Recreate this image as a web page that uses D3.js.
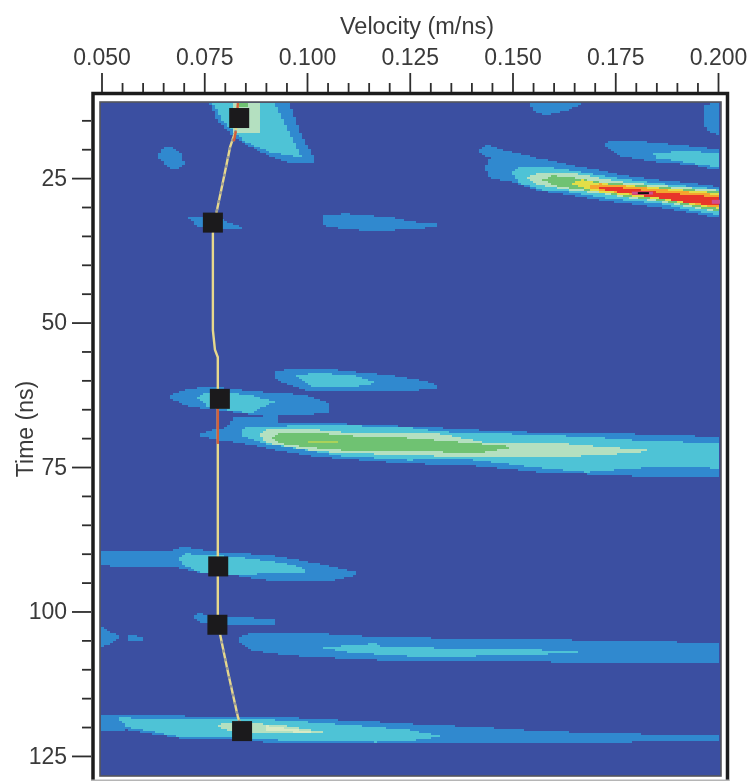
<!DOCTYPE html>
<html>
<head>
<meta charset="utf-8">
<title>Velocity spectrum</title>
<script src="https://d3js.org/d3.v7.min.js"></script>
<style>
  html, body { margin: 0; padding: 0; background: #fff; overflow: hidden; }
  svg { display: block; filter: blur(0.5px); }
  text { font-family: "Liberation Sans", Arial, sans-serif; fill: #3a3a3a; }
</style>
</head>
<body>
<svg id="chart" width="753" height="781"></svg>
<script>
// tick values
var velTicks = [0.050, 0.075, 0.100, 0.125, 0.150, 0.175, 0.200];
var velMinorTicks = [0.055, 0.060, 0.065, 0.070, 0.080, 0.085, 0.090, 0.095, 0.105, 0.110, 0.115, 0.120,
  0.130, 0.135, 0.140, 0.145, 0.155, 0.160, 0.165, 0.170, 0.180, 0.185, 0.190, 0.195];
var timeTicks = [25, 50, 75, 100, 125];
var timeMinorTicks = [15, 20, 30, 35, 40, 45, 55, 60, 65, 70, 80, 85, 90, 95, 105, 110, 115, 120];

// picked points (velocity m/ns, time ns)
var pickVel = [0.0835, 0.0771, 0.0788, 0.0784, 0.0782, 0.0842];
var pickTime = [14.6, 32.7, 63.2, 92.2, 102.3, 120.7];

// velocity function through the picks
var lineVel = [0.0832, 0.0827, 0.0813, 0.0793, 0.0781, 0.0771, 0.0771, 0.0776, 0.0783, 0.0783, 0.0783, 0.0793, 0.0808, 0.0832, 0.0842];
var lineTime = [12, 16.7, 19.6, 26.5, 30.5, 34.5, 51.3, 54.7, 56, 85.9, 102, 105.5, 110.6, 118.3, 120.3];

// where the line turns orange over stronger semblance
var redVel = [[0.0832, 0.0831], [0.0827, 0.0822], [0.0783, 0.0783]];
var redTime = [[12, 12.9], [16.9, 18.6], [64.3, 71]];

// contour patches, [velocity in mm/ns, time in ns]
var patchA1 = [[76.4,12],[78.1,14.9],[81.3,17.2],[83.7,18.7],[90.2,21],[95.8,22.4],[101.9,22.4],[101.4,21],[98.3,17.2],[95.8,12]];
var patchA2 = [[77.1,12],[79.3,14.9],[82.5,17.2],[84.9,18.7],[91,20.5],[98.8,21.5],[92.2,12]];
var patchA3 = [[81.7,12],[88.5,12],[88.5,17.2],[81.7,17.2]];
var patchA4 = [[83.2,12],[85.4,12],[85.4,12.6],[83.2,12.6]];
var patchB1 = [[63.5,21],[65,19.8],[67.1,19.6],[69.6,21],[70.1,22.7],[67.9,23.6],[65.4,22.7]];
var patchC1 = [[70.8,31.9],[74.7,31.6],[79.5,32.2],[84.9,33.8],[78.8,34],[73.9,33.5]];
var patchD1 = [[103.6,31.6],[109.2,31.1],[112.9,31.4],[116.8,31.6],[121.4,31.9],[126.3,32.6],[131.8,32.9],[131.8,33.5],[125,33.8],[116.8,34.2],[109.2,33.8],[104.4,33.3],[103.6,32.6]];
var patchE1 = [[154,12],[167.1,12],[163.9,13.2],[158.1,14.1],[155.9,13.6],[154,12.3]];
var patchF1 = [[196.3,12.3],[200.5,12],[200.5,17.5],[197.8,17],[196.3,15.3]];
var patchG1 = [[172.4,19.3],[173.7,18.7],[181.7,18.7],[192.4,19.4],[200.5,20],[200.5,23.6],[193.1,22.7],[185.1,22.2],[176.8,21.3],[172.9,19.8]];
var patchG2 = [[183.9,20.7],[192.4,20.3],[200.5,20.7],[200.5,23.2],[193.1,22.4],[185.1,21.5]];

var patchH1 = [[141.6,20.1],[143.7,19.1],[147.6,20.1],[155.9,21.5],[163.9,22.7],[171.2,23.6],[176.8,24.5],[185.1,25.3],[193.1,25.8],[200.5,26.5],[200.5,31.9],[193.1,31],[185.1,30],[176.8,29.3],[171.2,28.8],[163.9,27.9],[155.9,27.1],[150,25.7],[144.5,25],[143.3,23.2],[144.5,21.5],[141.6,20.6]];
var patchH2 = [[149.8,24.1],[151.8,23.1],[156.6,22.9],[163.9,23.6],[171.2,24.5],[176.8,25.1],[185.1,25.9],[200.5,26.9],[200.5,31.4],[193.1,30.5],[185.1,29.3],[176.8,28.8],[171.2,28.3],[163.9,27.4],[157.4,27.1],[151.8,25.9]];
var patchH3 = [[153.7,25],[156.1,24],[163.9,24],[171.2,25],[176.8,25.7],[185.1,26.2],[200.5,27.1],[200.5,30.9],[193.1,30],[185.1,29],[176.8,28.3],[171.2,27.6],[163.9,27.1],[157.4,26.3],[155,25.8]];
var patchH4 = [[157.4,25.3],[159.8,24.6],[163.9,24.8],[171.2,25.7],[176.8,26],[185.1,26.5],[200.5,27.4],[200.5,30.7],[185.1,28.8],[176.8,28.1],[171.2,27.4],[163.9,26.7],[159.8,26.2]];
var patchH5 = [[163.9,25.9],[167,25.3],[171.2,25.9],[176.8,26.2],[185.1,26.7],[200.5,27.6],[200.5,30.3],[185.1,28.6],[176.8,27.9],[171.2,27.4],[167,26.7]];
var patchH6 = [[167.5,26.5],[171.2,26],[176.8,26.3],[185.1,26.9],[200.5,27.9],[200.5,30.2],[185.1,28.4],[176.8,27.6],[171.2,27.1]];
var patchH7 = [[171.2,26.7],[176.8,26.7],[185.1,27.4],[193.1,27.9],[200.5,28.3],[200.5,29.8],[193.1,29.3],[185.1,28.4],[178.5,27.7],[172.9,27.1],[171.2,26.9]];

var patchJ1 = [[65.9,62.9],[69.8,61.7],[75.7,61],[85.4,61.8],[99,62.5],[105.1,63.9],[105.1,65.5],[100,66],[87.8,66],[78.1,65.1],[71.5,64.6]];
var patchJ2 = [[73.2,62.9],[75.2,62],[86.1,62.5],[92.2,63.7],[86.1,65.7],[80.2,65.1],[76,64.6]];
var patchK1 = [[91.7,58.7],[95.8,58],[103.9,57.9],[112.1,58.6],[120.2,59.1],[129.9,60.3],[131.6,60.9],[131.6,61.3],[123.3,62],[100.7,62],[95.8,60.8],[92.7,59.9]];
var patchK2 = [[97.5,59.2],[102.4,58.7],[112.1,59.2],[117,60.5],[110.4,61.2],[101.4,61.2]];
var patchM1 = [[73.2,69.5],[78.1,68.4],[80.5,68.2],[82,66.5],[92.7,66],[93.4,67.4],[104.8,67.4],[132.3,68.2],[149.3,68.9],[171.2,69.1],[189.9,69.5],[200.5,69.8],[200.5,76.7],[184.1,76.7],[168.1,76.2],[156.6,75.9],[146.9,75.2],[138.9,74.7],[125,74.4],[108.7,73.6],[100.7,73.1],[92.7,72.1],[84.4,70.9],[78.8,70.4]];
var patchM2 = [[83.7,69.5],[85,68.1],[105.6,67.7],[125,68.2],[133.1,68.9],[142.1,69.1],[158.3,69.5],[169.3,69.8],[178.5,70.3],[192.4,70.7],[200.5,70.8],[200.5,75.2],[184.1,75],[168.1,75.9],[157.4,75.2],[146.9,74.3],[137.9,73.6],[125,73.8],[108.7,73.1],[96.6,71.7],[89.3,70.9]];
var patchM3 = [[88.5,69.5],[90.5,68.4],[100.7,68.4],[110.4,69.1],[125,69.1],[132,69.2],[142.8,70.7],[158.3,70.7],[172,71.5],[183.4,72.1],[179.3,72.6],[161.5,73.3],[137.9,73.3],[125,72.9],[108.7,72.6],[100.7,72.1],[92.7,71.2],[89.8,70.7]];
var patchM4 = [[91.5,69.8],[93.9,69],[100.7,69],[110.4,69.6],[125,70],[137.2,70.7],[151,71.5],[141.3,72.6],[125,72.2],[108.7,72.1],[100.7,71.6],[93.4,70.9]];
var patchM5 = [[100,70.6],[107.5,70.5],[107.5,71],[100,71]];

var patchN1 = [[49.5,89.4],[58.1,89.5],[65.9,89.7],[69.8,88.8],[78.1,89.7],[90.2,90.2],[98.3,91.1],[109.7,92.8],[112.1,93],[112.1,93.7],[106.3,94.6],[90.2,94.6],[82,93.7],[73.9,93.3],[67.4,92.3],[54.5,92.3],[49.5,91.9]];
var patchN2 = [[68.6,90.7],[70.8,90],[82,90.5],[94.1,91.6],[99.2,92.5],[99.2,93.3],[94.1,93.3],[82,93.7],[73.9,93.2],[69.8,91.9]];
var patchO1 = [[72,100.6],[73.9,100.4],[80.5,100.9],[92.2,101.3],[92.2,102.2],[80.5,102.3],[73.9,101.8]];
var patchP1 = [[49.5,102.4],[52.8,103.7],[54.7,104.4],[52.6,105.5],[49.5,106.2]];
var patchQ1 = [[56.4,103.9],[58.1,104.2],[60.3,104.4],[60.3,105.1],[56.4,105.1]];
var patchR1 = [[83.4,104.6],[86.1,103.6],[99,103.6],[109.7,104.1],[116.8,104.4],[130.1,104.4],[130.9,104.8],[154.9,104.8],[191.4,105.3],[200.5,105.5],[200.5,108.9],[169.5,108.9],[160.5,108.8],[153.2,108.4],[129.6,108.4],[116.8,108.4],[102.4,107.9],[94.1,107.5],[86.8,106.7],[83.4,105.3]];
var patchR2 = [[103.6,106.2],[109.7,105.9],[116.8,105.5],[118.5,106.2],[129.6,106.2],[133,106.5],[152.7,106.5],[165.9,107],[165.9,107.2],[152.7,107.5],[129.6,107.9],[116.8,107.4],[109.7,107],[103.6,106.3]];
var patchS1 = [[49.5,117.9],[94.1,118.3],[116.8,119.1],[131.8,119.7],[141.8,120],[152.5,120.5],[165.4,120.9],[180.7,121.2],[200.5,121.4],[200.5,122.3],[180.7,122.3],[178.3,122.8],[149.1,122.9],[125.3,122.8],[116.8,122.9],[94.1,122.9],[78.8,121.9],[70.8,122.1],[56.2,120.5],[49.5,120.9]];
var patchS2 = [[54,118.4],[94.1,118.8],[116.8,120],[124.8,120.5],[133,121.6],[124.8,122.4],[116.8,122.6],[94.1,122.3],[78.8,121.7],[70.8,121.9],[56.2,120]];
var patchS3 = [[77.6,119.7],[82,119.1],[94.1,119.7],[104.4,120.9],[101.4,121.2],[90.2,120.9],[82,120.9]];
var patchS4 = [[90.2,119.8],[98.3,120.5],[101.9,121],[90.2,120.7]];

// peak of the spectrum
var peakVel = [0.1805, 0.1832];
var peakTime = [27.6, 27.6];
var rimVel = [0.1985, 0.2005];
var rimTime = [29.1, 29.1];

var levelColors = ["#3089cf", "#4ec3d6", "#b4e0c0", "#6fc272", "#e2de48", "#f4a62e", "#e8362a", "#a9d25a", "#d8eac4"];

// later entries paint over earlier ones
var bands = [
  [0, patchA1], [1, patchA2], [2, patchA3], [3, patchA4],
  [0, patchB1], [0, patchC1], [0, patchD1], [0, patchE1], [0, patchF1],
  [0, patchG1], [1, patchG2],
  [0, patchH1], [1, patchH2], [2, patchH3], [3, patchH4], [4, patchH5], [5, patchH6], [6, patchH7],
  [0, patchJ1], [0, patchM1], [1, patchJ2], [0, patchK1], [1, patchK2],
  [1, patchM2], [2, patchM3], [3, patchM4], [7, patchM5],
  [0, patchN1], [1, patchN2], [0, patchO1], [0, patchP1], [0, patchQ1],
  [0, patchR1], [1, patchR2],
  [0, patchS1], [1, patchS2], [2, patchS3], [8, patchS4]
];

var svg = d3.select("#chart");

var x = d3.scaleLinear().domain([0.05, 0.2]).range([101.5, 718]);
var y = d3.scaleLinear().domain([12, 128.3]).range([103, 775]);

var plotLeft = 101, plotRight = 720, plotTop = 103, plotBottom = 775;
// the spectrum was gridded, so the contours come out blocky
var cellW = 3, cellH = 2;

// outer black frame, then the thin inner one
svg.append("rect")
    .attr("x", 93).attr("y", 93.5).attr("width", 634.5).attr("height", 690)
    .attr("fill", "#fff").attr("stroke", "#1c1c1c").attr("stroke-width", 3.5);

svg.append("rect")
    .attr("x", plotLeft - 1).attr("y", plotTop - 1)
    .attr("width", plotRight - plotLeft + 2).attr("height", plotBottom - plotTop + 2)
    .attr("fill", "#3b4fa1").attr("stroke", "#55565c").attr("stroke-width", 1.6);

svg.append("rect")
    .attr("x", 91).attr("y", 779.5).attr("width", 638).attr("height", 2)
    .attr("fill", "#b5b5b5");

svg.append("clipPath").attr("id", "plot")
  .append("rect")
    .attr("x", plotLeft).attr("y", plotTop)
    .attr("width", plotRight - plotLeft).attr("height", plotBottom - plotTop);

var plot = svg.append("g").attr("clip-path", "url(#plot)");

// project the patches through the scales, then walk the grid top to bottom
var polys = bands.map(function(b) {
  var pts = b[1].map(function(d) { return [x(d[0] / 1000), y(d[1])]; });
  return {
    level: b[0],
    pts: pts,
    x0: d3.min(pts, function(p) { return p[0]; }),
    x1: d3.max(pts, function(p) { return p[0]; }),
    y0: d3.min(pts, function(p) { return p[1]; }),
    y1: d3.max(pts, function(p) { return p[1]; })
  };
});

function levelAt(px, py) {
  for (var i = polys.length - 1; i >= 0; i--) {
    var p = polys[i];
    if (px < p.x0 || px > p.x1 || py < p.y0 || py > p.y1) continue;
    if (d3.polygonContains(p.pts, [px, py])) return p.level;
  }
  return -1;
}

var cellPaths = levelColors.map(function() { return ""; });

for (var py = plotTop; py < plotBottom; py += cellH) {
  var runStart = plotLeft, runLevel = levelAt(plotLeft + cellW / 2, py + cellH / 2);
  for (var px = plotLeft + cellW; px <= plotRight; px += cellW) {
    var lev = px < plotRight ? levelAt(px + cellW / 2, py + cellH / 2) : -2;
    if (lev !== runLevel) {
      if (runLevel >= 0) {
        cellPaths[runLevel] += "M" + runStart + "," + py + "h" + (px - runStart) + "v" + cellH + "h" + (runStart - px) + "Z";
      }
      runStart = px;
      runLevel = lev;
    }
  }
}

plot.selectAll(".band")
    .data(cellPaths)
  .enter().append("path")
    .attr("class", "band")
    .attr("d", function(d) { return d; })
    .attr("fill", function(d, i) { return levelColors[i]; })
    .attr("shape-rendering", "crispEdges");

// pink rim and black dash at the maximum
plot.append("line")
    .attr("x1", x(peakVel[0]) - 6).attr("x2", x(peakVel[1]) + 4)
    .attr("y1", y(peakTime[0])).attr("y2", y(peakTime[1]))
    .attr("stroke", "#cf4f8e").attr("stroke-width", 3);
plot.append("line")
    .attr("x1", x(rimVel[0])).attr("x2", x(rimVel[1]))
    .attr("y1", y(rimTime[0])).attr("y2", y(rimTime[1]))
    .attr("stroke", "#cf4f8e").attr("stroke-width", 4);
plot.append("line")
    .attr("x1", x(peakVel[0])).attr("x2", x(peakVel[1]))
    .attr("y1", y(peakTime[0])).attr("y2", y(peakTime[1]))
    .attr("stroke", "#111").attr("stroke-width", 2);

var pickLine = d3.line()
    .x(function(d) { return x(d[0]); })
    .y(function(d) { return y(d[1]); });

var linePts = d3.zip(lineVel, lineTime);

plot.append("path")
    .attr("d", pickLine(linePts))
    .attr("fill", "none")
    .attr("stroke", "#e6d88c")
    .attr("stroke-width", 2.4);

// slanted stretches of the line look broken up, grey over yellow
plot.selectAll(".slant")
    .data([linePts.slice(1, 6), linePts.slice(10)])
  .enter().append("path")
    .attr("class", "slant")
    .attr("d", pickLine)
    .attr("fill", "none")
    .attr("stroke", "#9a9a94")
    .attr("stroke-width", 2.4)
    .attr("stroke-dasharray", "3 6");

plot.selectAll(".red")
    .data(d3.zip(redVel, redTime))
  .enter().append("line")
    .attr("class", "red")
    .attr("x1", function(d) { return x(d[0][0]); })
    .attr("x2", function(d) { return x(d[0][1]); })
    .attr("y1", function(d) { return y(d[1][0]); })
    .attr("y2", function(d) { return y(d[1][1]); })
    .attr("stroke", "#d2603c")
    .attr("stroke-width", 2.4);

plot.selectAll(".pick")
    .data(d3.zip(pickVel, pickTime))
  .enter().append("rect")
    .attr("class", "pick")
    .attr("x", function(d) { return x(d[0]) - 10; })
    .attr("y", function(d) { return y(d[1]) - 10; })
    .attr("width", 20)
    .attr("height", 20)
    .attr("fill", "#1b1a1c");

// axes, ticks sit outside the outer frame
var tickColor = "#2e2e2e";

function styleAxis(g) {
  g.select(".domain").remove();
  g.selectAll("line").attr("stroke", tickColor).attr("stroke-width", 1.8);
  g.selectAll("text").attr("font-size", 23);
}

svg.append("g")
    .attr("transform", "translate(0,92)")
    .call(d3.axisTop(x).tickValues(velMinorTicks).tickSize(9).tickFormat(""))
    .call(styleAxis);

svg.append("g")
    .attr("transform", "translate(0,92)")
    .call(d3.axisTop(x).tickValues(velTicks).tickSize(19).tickPadding(8).tickFormat(d3.format(".3f")))
    .call(styleAxis);

svg.append("g")
    .attr("transform", "translate(91,0)")
    .call(d3.axisLeft(y).tickValues(timeMinorTicks).tickSize(9).tickFormat(""))
    .call(styleAxis);

svg.append("g")
    .attr("transform", "translate(91,0)")
    .call(d3.axisLeft(y).tickValues(timeTicks).tickSize(19).tickPadding(5).tickFormat(d3.format("d")))
    .call(styleAxis);

svg.append("text")
    .attr("x", 417)
    .attr("y", 34)
    .attr("text-anchor", "middle")
    .attr("font-size", 23.5)
    .text("Velocity (m/ns)");

svg.append("text")
    .attr("transform", "translate(33,429) rotate(-90)")
    .attr("text-anchor", "middle")
    .attr("font-size", 23)
    .text("Time (ns)");
</script>
</body>
</html>
